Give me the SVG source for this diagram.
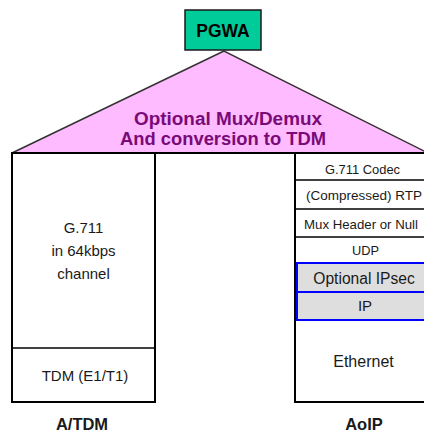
<svg xmlns="http://www.w3.org/2000/svg" width="424" height="434" viewBox="0 0 424 434">
<style>
text{font-family:"Liberation Sans",Arial,sans-serif;text-anchor:middle;fill:#1a1a1a}
.b{font-weight:bold}
.box{fill:#fff;stroke:#000;stroke-width:2}
.div{stroke:#000;stroke-width:1.6}
.blue{fill:#dedede;stroke:#0000ff;stroke-width:2}
.mux{font-weight:bold;font-size:18px;fill:#7a0a78}
</style>
<rect width="424" height="434" fill="#fff"/>
<g id="connectors"></g>
<g id="mux-demux">
<polygon points="224,51 12,153 428,153" fill="#ffbbff" stroke="#333" stroke-width="1.5"/>
<text class="mux" x="228" y="125" textLength="188" lengthAdjust="spacingAndGlyphs">Optional Mux/Demux</text>
<text class="mux" x="223" y="145" textLength="206" lengthAdjust="spacingAndGlyphs">And conversion to TDM</text>
</g>
<g id="pgwa">
<rect x="185" y="10" width="76" height="40" fill="#00cc99" stroke="#1a1a1a" stroke-width="1.5"/>
<text class="b" x="223" y="37" style="font-size:17.5px;fill:#000">PGWA</text>
</g>
<g id="atdm">
<rect class="box" x="12" y="153" width="143" height="249"/>
<line class="div" x1="12" y1="348" x2="155" y2="348"/>
<text x="83.5" y="233" font-size="15">G.711</text>
<text x="83.5" y="256" font-size="15">in 64kbps</text>
<text x="83.5" y="279" font-size="15">channel</text>
<text x="85" y="381" font-size="15">TDM (E1/T1)</text>
<text class="b" x="82" y="430" font-size="16.5">A/TDM</text>
</g>
<g id="aoip">
<rect class="box" x="295" y="153" width="142" height="249"/>
<line class="div" x1="295" y1="180" x2="437" y2="180"/>
<line class="div" x1="295" y1="209" x2="437" y2="209"/>
<line class="div" x1="295" y1="237" x2="437" y2="237"/>
<rect class="blue" x="297" y="263" width="140" height="29"/>
<rect class="blue" x="297" y="292" width="140" height="28"/>
<line x1="295" y1="153" x2="295" y2="402" stroke="#000" stroke-width="2"/>
<text x="362.5" y="174" font-size="13" textLength="75" lengthAdjust="spacingAndGlyphs">G.711 Codec</text>
<text x="364" y="200" font-size="13.4" textLength="116" lengthAdjust="spacingAndGlyphs">(Compressed) RTP</text>
<text x="361" y="229" font-size="13.4" textLength="114" lengthAdjust="spacingAndGlyphs">Mux Header or Null</text>
<text x="365.5" y="255" font-size="12.8">UDP</text>
<text x="364" y="284" font-size="15.6">Optional IPsec</text>
<text x="365" y="311" font-size="15">IP</text>
<text x="363.5" y="367" font-size="16">Ethernet</text>
<text class="b" x="364" y="430" font-size="16.5">AoIP</text>
</g>
<line x1="12" y1="153" x2="424" y2="153" stroke="#000" stroke-width="2"/>
</svg>
